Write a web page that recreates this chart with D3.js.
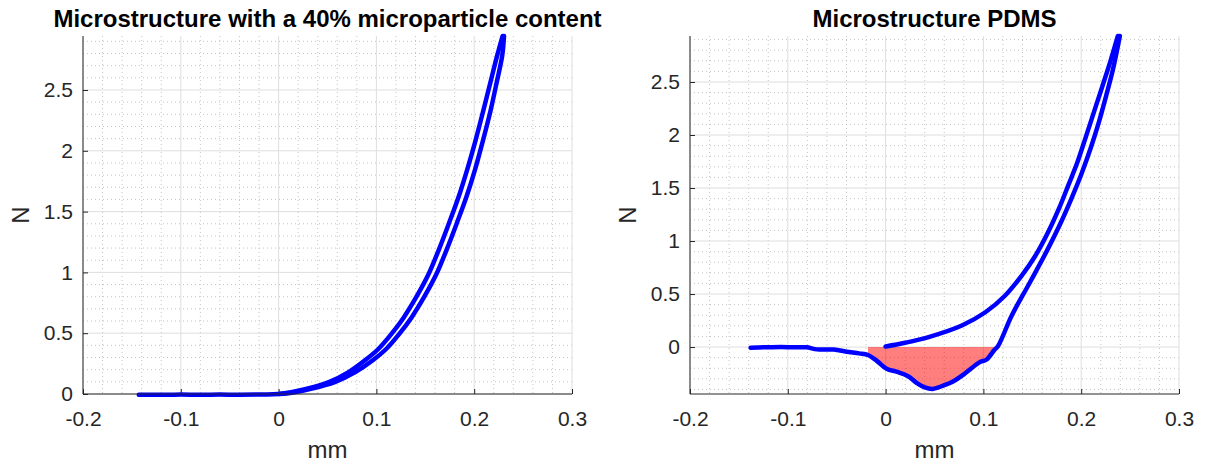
<!DOCTYPE html>
<html>
<head>
<meta charset="utf-8">
<script src="https://cdn.jsdelivr.net/npm/d3@7"></script>
<style>
  html, body { margin: 0; padding: 0; background: #fff; }
  svg { display: block; font-family: "Liberation Sans", Arial, Helvetica, sans-serif; }
</style>
</head>
<body>
<svg id="fig" width="1205" height="466"></svg>
<script>
// ---- data (displacement in mm, force in N) ----
const titles = ["Microstructure with a 40% microparticle content", "Microstructure PDMS"];
const xTicks = [-0.2, -0.1, 0, 0.1, 0.2, 0.3];
const yTicksA = [0, 0.5, 1, 1.5, 2, 2.5];
const yTicksB = [0, 0.5, 1, 1.5, 2, 2.5];

// 40% microparticle sample: loading and unloading branches
const loadA = [
  [-0.143, -0.006], [-0.12, -0.006], [-0.1, -0.005], [-0.08, -0.006], [-0.06, -0.005],
  [-0.04, -0.006], [-0.02, -0.004], [0, 0.0], [0.028, 0.042], [0.052, 0.1],
  [0.0715, 0.18], [0.088, 0.275], [0.102, 0.37], [0.115, 0.49], [0.128, 0.63],
  [0.141, 0.80], [0.153, 0.98], [0.164, 1.19], [0.174, 1.40], [0.184, 1.62],
  [0.193, 1.85], [0.2012, 2.08], [0.2093, 2.33], [0.2168, 2.57], [0.2234, 2.78], [0.229, 2.944]
];
const unloadA = [
  [0.2305, 2.944], [0.2286, 2.78], [0.2232, 2.57], [0.2167, 2.33], [0.2088, 2.08],
  [0.201, 1.85], [0.192, 1.62], [0.182, 1.40], [0.172, 1.19], [0.161, 0.98],
  [0.149, 0.80], [0.136, 0.63], [0.123, 0.49], [0.110, 0.37], [0.096, 0.275],
  [0.0785, 0.18], [0.058, 0.1], [0.033, 0.042], [0.01, 0.006], [0, 0.0]
];

// PDMS sample: loading branch with adhesion dip, and unloading branch
const loadB = [
  [-0.138, -0.006], [-0.125, -0.003], [-0.107, 0.0], [-0.095, -0.002], [-0.081, -0.003],
  [-0.07, -0.022], [-0.053, -0.024], [-0.04, -0.044], [-0.027, -0.06], [-0.018, -0.075],
  [-0.009, -0.13], [0.001, -0.205], [0.012, -0.235], [0.023, -0.275], [0.032, -0.34],
  [0.040, -0.38], [0.048, -0.395], [0.060, -0.36], [0.068, -0.33], [0.081, -0.25],
  [0.092, -0.17], [0.097, -0.138], [0.103, -0.12], [0.111, -0.03], [0.115, 0.01],
  [0.129, 0.297], [0.1475, 0.609], [0.1645, 0.90], [0.1785, 1.16], [0.190, 1.40],
  [0.2005, 1.64], [0.2098, 1.88], [0.218, 2.12], [0.2255, 2.37], [0.2325, 2.62], [0.2395, 2.934]
];
const unloadB = [
  [0.2375, 2.934], [0.230, 2.70], [0.222, 2.47], [0.2135, 2.23], [0.205, 1.99],
  [0.196, 1.74], [0.187, 1.53], [0.177, 1.30], [0.166, 1.08], [0.153, 0.859],
  [0.139, 0.672], [0.122, 0.484], [0.102, 0.328], [0.078, 0.203], [0.044, 0.094],
  [0.02, 0.04], [0, 0.005]
];
// shaded adhesion region (x range in mm)
const adhesionRange = [-0.018, 0.113];

// ---- layout ----
const svg = d3.select("#fig");
const panels = [
  { x0: 83,  x1: 572,  y0: 36, y1: 394, xDom: [-0.2, 0.3], yDom: [0, 2.944],      yTicks: yTicksA, title: titles[0], lines: [loadA, unloadA], fill: null },
  { x0: 690, x1: 1179, y0: 36, y1: 394, xDom: [-0.2, 0.3], yDom: [-0.443, 2.934], yTicks: yTicksB, title: titles[1], lines: [loadB, unloadB], fill: loadB }
];

const axisColor = "#262626";
const fmt = d => String(+d.toFixed(2));

panels.forEach(p => {
  const x = d3.scaleLinear().domain(p.xDom).range([p.x0, p.x1]);
  const y = d3.scaleLinear().domain(p.yDom).range([p.y1, p.y0]);
  const g = svg.append("g");

  // minor grid (dotted)
  const xMinor = d3.range(-0.2, 0.3001, 0.02).filter(v => Math.abs(Math.round(v * 10) - v * 10) > 1e-6);
  const yMinor = d3.range(Math.ceil(p.yDom[0] * 10) / 10, p.yDom[1] + 1e-9, 0.1)
    .filter(v => Math.abs(Math.round(v * 2) - v * 2) > 1e-6);
  const minor = g.append("g").attr("stroke", "#c4c4c4").attr("stroke-width", 1)
    .attr("stroke-dasharray", "1,3");
  minor.selectAll("line.vx").data(xMinor).join("line")
    .attr("x1", d => x(d)).attr("x2", d => x(d)).attr("y1", p.y0).attr("y2", p.y1);
  minor.selectAll("line.hy").data(yMinor).join("line")
    .attr("x1", p.x0).attr("x2", p.x1).attr("y1", d => y(d)).attr("y2", d => y(d));

  // major grid
  const major = g.append("g").attr("stroke", "#dedede").attr("stroke-width", 1);
  major.selectAll("line.vx").data(xTicks).join("line")
    .attr("x1", d => x(d)).attr("x2", d => x(d)).attr("y1", p.y0).attr("y2", p.y1);
  major.selectAll("line.hy").data(p.yTicks).join("line")
    .attr("x1", p.x0).attr("x2", p.x1).attr("y1", d => y(d)).attr("y2", d => y(d));

  // adhesion area
  if (p.fill) {
    const pts = p.fill.filter(d => d[0] >= adhesionRange[0] && d[0] <= adhesionRange[1]);
    const area = d3.area().x(d => x(d[0])).y0(y(0)).y1(d => y(Math.min(d[1], 0)))
      .curve(d3.curveLinear);
    g.append("path").datum(pts).attr("d", area)
      .attr("fill", "#ff0000").attr("fill-opacity", 0.5);
  }

  // curves
  const line = d3.line().x(d => x(d[0])).y(d => y(d[1])).curve(d3.curveCatmullRom.alpha(0.5));
  p.lines.forEach(s => {
    g.append("path").datum(s).attr("d", line)
      .attr("fill", "none").attr("stroke", "#0000ff").attr("stroke-width", 4.5)
      .attr("stroke-linejoin", "round").attr("stroke-linecap", "round");
  });

  // axes
  const xAxis = d3.axisBottom(x).tickValues(xTicks).tickSizeInner(-5).tickSizeOuter(0)
    .tickPadding(17).tickFormat(fmt);
  const yAxis = d3.axisLeft(y).tickValues(p.yTicks).tickSizeInner(-5).tickSizeOuter(0)
    .tickPadding(10).tickFormat(fmt);

  const gx = g.append("g").attr("transform", `translate(0,${p.y1})`).call(xAxis);
  const gy = g.append("g").attr("transform", `translate(${p.x0},0)`).call(yAxis);
  [gx, gy].forEach(a => {
    a.select(".domain").attr("stroke", axisColor).attr("stroke-width", 1);
    a.selectAll(".tick line").attr("stroke", axisColor);
    a.selectAll(".tick text").attr("fill", axisColor)
      .style("font-size", "21px").style("font-family", "'Liberation Sans', Arial, sans-serif");
  });
  gy.select(".domain").attr("d", `M0,${p.y0}V${p.y1}`);
  gx.select(".domain").attr("d", `M${p.x0},0H${p.x1}`);

  // labels
  g.append("text").attr("x", (p.x0 + p.x1) / 2).attr("y", 27)
    .attr("text-anchor", "middle").attr("font-weight", "bold").attr("font-size", 24)
    .attr("fill", "#000").text(p.title);
  g.append("text").attr("x", (p.x0 + p.x1) / 2).attr("y", 458)
    .attr("text-anchor", "middle").attr("font-size", 24).attr("fill", axisColor).text("mm");
  g.append("text").attr("transform", `translate(${p.x0 - 54},${(p.y0 + p.y1) / 2}) rotate(-90)`)
    .attr("text-anchor", "middle").attr("font-size", 24).attr("fill", axisColor).text("N");
});
</script>
</body>
</html>
